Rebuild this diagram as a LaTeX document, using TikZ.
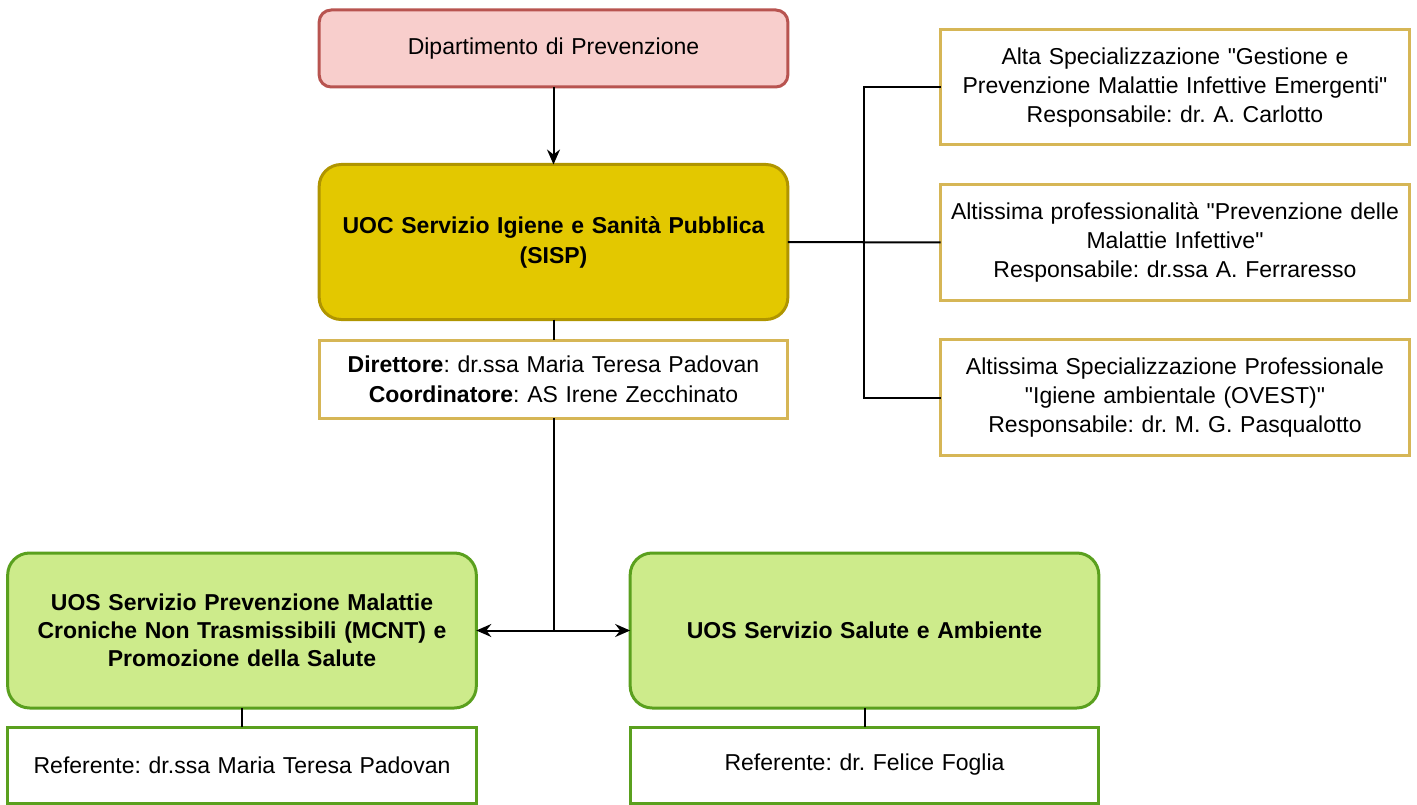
\documentclass[tikz,border=0pt]{standalone}
\usepackage{fontspec}
\setmainfont{Liberation Sans}
\usetikzlibrary{arrows.meta}
\definecolor{dipfill}{HTML}{F8CECC}
\definecolor{dipline}{HTML}{B85450}
\definecolor{uocfill}{HTML}{E3C800}
\definecolor{uocline}{HTML}{B09500}
\definecolor{resline}{HTML}{D6B656}
\definecolor{uosfill}{HTML}{CDEB8B}
\definecolor{uosline}{HTML}{5AA01E}
\frenchspacing

\begin{document}
\begin{tikzpicture}[x=1pt, y=-1pt,
    box/.style={draw, line width=3pt, outer sep=0pt, minimum width=467pt, align=center, text width=462pt,
        font=\fontsize{23}{30}\selectfont},
    dipbox/.style={box, rounded corners=12pt, fill=dipfill, draw=dipline, minimum height=77pt},
    uocbox/.style={box, rounded corners=22pt, fill=uocfill, draw=uocline, minimum height=155pt,
        font=\fontsize{23}{30}\selectfont\bfseries},
    resbox/.style={box, draw=resline, fill=white},
    uosbox/.style={box, rounded corners=22pt, fill=uosfill, draw=uosline, minimum height=155pt,
        font=\fontsize{23}{28}\selectfont\bfseries},
    refbox/.style={box, draw=uosline, fill=white, minimum height=76pt},
    link/.style={line width=2pt},
    arr/.style={link, -{Stealth[length=15pt, width=13pt, inset=5pt]}}]

    \useasboundingbox (0,0) rectangle (1417,805);

    \draw(553.5,48.5) node[dipbox] (dip) {Dipartimento di Prevenzione};
    \draw(553.5,242) node[uocbox] (uoc) {UOC Servizio Igiene e Sanità Pubblica\\(SISP)};
    \draw(553.5,379) node[resbox, minimum height=78pt] (dir)
    {\textbf{Direttore}: dr.ssa Maria Teresa Padovan\\\textbf{Coordinatore}: AS Irene Zecchinato};

    \draw(1175,87.5) node[resbox, minimum height=115pt, font=\fontsize{23}{29}\selectfont] (alta)
    {Alta Specializzazione \textquotedbl Gestione e\\Prevenzione Malattie Infettive Emergenti\textquotedbl\\Responsabile: dr. A. Carlotto};
    \draw(1175,242.5) node[resbox, minimum height=115pt, font=\fontsize{23}{29}\selectfont] (prof)
    {Altissima professionalità \textquotedbl Prevenzione delle\\Malattie Infettive\textquotedbl\\Responsabile: dr.ssa A. Ferraresso};
    \draw(1175,397.5) node[resbox, minimum height=116pt, font=\fontsize{23}{29}\selectfont] (amb)
    {Altissima Specializzazione Professionale\\\textquotedbl Igiene ambientale (OVEST)\textquotedbl\\Responsabile: dr. M. G. Pasqualotto};

    \draw(242,630.5) node[uosbox] (mcnt)
    {UOS Servizio Prevenzione Malattie\\Croniche Non Trasmissibili (MCNT) e\\Promozione della Salute};
    \draw(864.5,630.5) node[uosbox] (salute)
    {UOS Servizio Salute e Ambiente};
    \draw(242,765) node[refbox] (refmcnt) {Referente: dr.ssa Maria Teresa Padovan};
    \draw(864.5,765) node[refbox] (refsal) {Referente: dr. Felice Foglia};

    \coordinate (fork) at (553.5,630.5);
    \coordinate (rail) at (864,397.5);

    \draw[arr] (dip) -- (uoc);
    \draw[link] (uoc) -- (dir);
    \draw[link] (dir) -- (fork);
    \draw[arr] (fork) -- (mcnt);
    \draw[arr] (fork) -- (salute);
    \draw[link] (uoc) -- (prof);
    \draw[link] (alta.west) -| (rail) -- (amb.west);
    \draw[link] (mcnt) -- (refmcnt);
    \draw[link] (salute) -- (refsal);

\end{tikzpicture}
\end{document}
